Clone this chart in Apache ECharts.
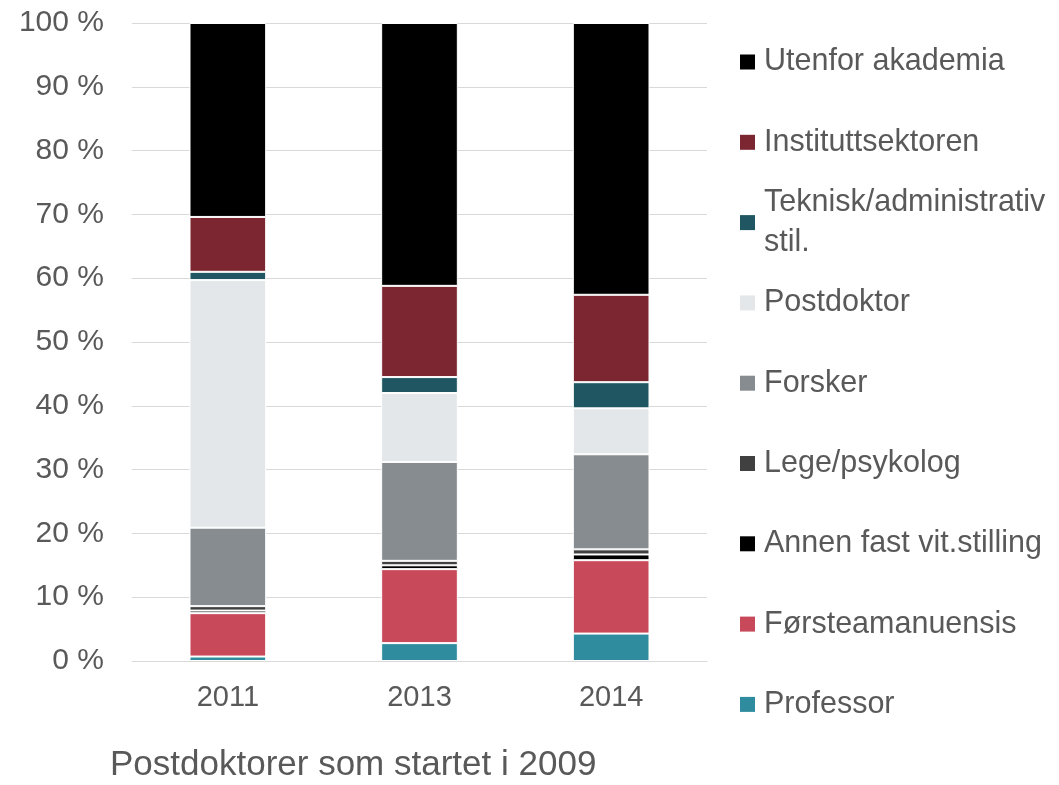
<!DOCTYPE html>
<html>
<head>
<meta charset="utf-8">
<script src="https://cdn.jsdelivr.net/npm/echarts@6/dist/echarts.min.js"></script>
<style>
    html, body { margin: 0; padding: 0; background: #fff; }
    #chart { width: 1059px; height: 785px; }
</style>
</head>
<body>
<div id="chart"></div>
<script>
const categories = ['2011', '2013', '2014'];

// bottom to top in the stack
const professor = [0.7, 2.8, 4.3];
const forsteamanuensis = [6.8, 11.6, 11.5];
const annenFast = [0.4, 0.6, 0.9];
const legePsykolog = [0.7, 0.7, 0.8];
const forsker = [12.3, 15.5, 14.9];
const postdoktor = [38.8, 10.8, 7.2];
const teknisk = [1.3, 2.5, 4.1];
const instituttsektoren = [8.6, 14.3, 13.7];
const utenfor = [30.4, 41.2, 42.6];

const seriesDefs = [
    { name: 'Professor', data: professor, color: '#2e8c9e' },
    { name: 'Førsteamanuensis', data: forsteamanuensis, color: '#c84a5a' },
    { name: 'Annen fast vit.stilling', data: annenFast, color: '#000000' },
    { name: 'Lege/psykolog', data: legePsykolog, color: '#404040' },
    { name: 'Forsker', data: forsker, color: '#878c90' },
    { name: 'Postdoktor', data: postdoktor, color: '#e3e7ea' },
    { name: 'Teknisk/administrativ\nstil.', data: teknisk, color: '#1f5661' },
    { name: 'Instituttsektoren', data: instituttsektoren, color: '#7b2630' },
    { name: 'Utenfor akademia', data: utenfor, color: '#000000' },
];

const textColor = '#595959';
const fontFamily = '"Liberation Sans", Arial, sans-serif';

const chart = echarts.init(document.getElementById('chart'));

// one legend per item so spacing stays even (Teknisk wraps to two lines)
const legendOrder = seriesDefs.slice().reverse();
const legends = legendOrder.map((s, i) => {
    const centerY = 62 + i * 80.3;
    const twoLine = s.name.indexOf('\n') >= 0;
    return {
        data: [s.name],
        left: 740,
        top: twoLine ? centerY - 60 : centerY - 20,
        padding: 0,
        itemWidth: 15,
        itemHeight: 15,
        itemGap: 0,
        icon: 'rect',
        selectedMode: false,
        itemStyle: { borderWidth: 0 },
        textStyle: {
            color: textColor,
            fontSize: 30.5,
            fontFamily: fontFamily,
            lineHeight: 40,
            padding: twoLine ? [40, 0, 0, 4] : [0, 0, 0, 4],
        },
    };
});

const option = {
    animation: false,
    color: seriesDefs.map(s => s.color),
    title: {
        text: 'Postdoktorer som startet i 2009',
        left: 110,
        top: 748,
        padding: 0,
        textStyle: {
            color: textColor,
            fontSize: 35,
            fontWeight: 'normal',
            fontFamily: fontFamily,
        },
    },
    legend: legends,
    grid: {
        left: 132,
        right: 352,
        top: 23,
        bottom: 124,
    },
    xAxis: {
        type: 'category',
        data: categories,
        axisTick: { show: false },
        axisLine: { lineStyle: { color: '#d9d9d9', width: 1 } },
        axisLabel: {
            color: textColor,
            fontSize: 29,
            fontFamily: fontFamily,
            margin: 22,
        },
    },
    yAxis: {
        type: 'value',
        min: 0,
        max: 100,
        interval: 10,
        axisLine: { show: false },
        axisTick: { show: false },
        splitLine: { lineStyle: { color: '#d9d9d9', width: 1 } },
        axisLabel: {
            formatter: '{value} %',
            color: textColor,
            fontSize: 30,
            fontFamily: fontFamily,
            margin: 28,
        },
    },
    series: seriesDefs.map(s => ({
        name: s.name,
        type: 'bar',
        stack: 'total',
        barWidth: '40%',
        data: s.data,
        itemStyle: {
            color: s.color,
            borderColor: '#ffffff',
            borderWidth: 1,
        },
    })),
};

chart.setOption(option);
</script>
</body>
</html>
